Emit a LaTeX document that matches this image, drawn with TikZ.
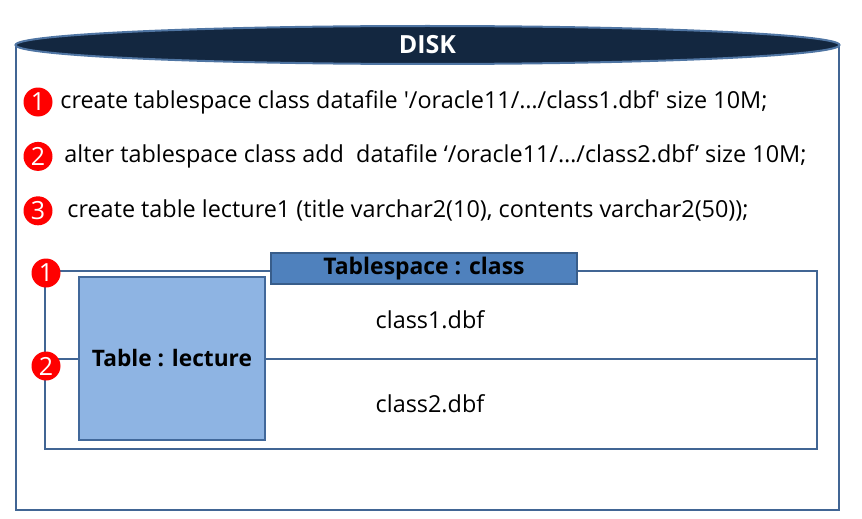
\documentclass[tikz,border=0pt]{standalone}
\usepackage{fontspec}
\setmainfont{Open Sans}
\usepackage{tikz}
\usetikzlibrary{shapes.geometric, positioning, calc}
\definecolor{disknavy}{RGB}{19, 39, 64}
\definecolor{diskrim}{RGB}{79, 117, 163}
\definecolor{frameblue}{RGB}{65, 101, 148}
\definecolor{tsblue}{RGB}{79, 129, 189}
\definecolor{tsedge}{RGB}{56, 93, 138}
\definecolor{tblblue}{RGB}{142, 180, 227}
\definecolor{tbledge}{RGB}{65, 104, 154}

\begin{document}
\begin{tikzpicture}[x=1pt, y=-1pt,
    numdot/.style={circle, fill=red, text=white, inner sep=0pt, minimum size=29pt, font=\fontsize{25}{25}\selectfont},
    cmdline/.style={inner sep=0pt, font=\fontsize{23.4}{26}\selectfont},
    fileline/.style={inner sep=0pt, font=\fontsize{23.4}{26}\selectfont},
    boxline/.style={draw=frameblue, line width=2pt}]
    \useasboundingbox (0,0) rectangle (862,519);

    % disk outline
    \draw[boxline] (16,45) -- (16,510) -- (839,510) -- (839,45);
    \node[ellipse, draw=diskrim, line width=2pt, fill=disknavy, minimum width=824pt, minimum height=38pt, inner sep=0pt, text=white, font=\bfseries\fontsize{25}{25}\selectfont] (disk) at (427.5,45) {DISK};

    % sql statements
    \node[numdot] (n1) at (38,102) {1};
    \node[cmdline, right=7.5pt of n1] (cmd1) {create tablespace class datafile \textquotesingle/oracle11/…/class1.dbf\textquotesingle\ size 10M;};
    \node[numdot, below=25pt of n1] (n2) {2};
    \node[cmdline, right=11.5pt of n2] (cmd2) {alter tablespace class add\ \ datafile ‘/oracle11/…/class2.dbf’ size 10M;};
    \node[numdot, below=25pt of n2] (n3) {3};
    \node[cmdline, right=14.5pt of n3] (cmd3) {create table lecture1 (title varchar2(10), contents varchar2(50));};

    % tablespace
    \node[boxline, minimum width=772pt, minimum height=178pt] (tsframe) at (431,360) {};
    \node[draw=tsedge, line width=1.5pt, fill=tsblue, minimum width=306pt, minimum height=31pt, inner sep=0pt, font=\bfseries\fontsize{22.9}{23}\selectfont] (tshead) at (424,268.5) {Tablespace : class};
    \node[draw=tbledge, line width=1.5pt, fill=tblblue, minimum width=186pt, minimum height=163pt, inner sep=0pt, font=\bfseries\fontsize{22.7}{23}\selectfont] (tbl) at (172,358.5) {Table : lecture};
    \draw[boxline] (tsframe.west |- tbl) -- (tbl.west);
    \draw[boxline] (tbl.east) -- (tsframe.east |- tbl);
    \node[fileline] (file1) at (430,320) {class1.dbf};
    \node[fileline] (file2) at (430,404) {class2.dbf};

    \node[numdot] (m1) at (46,273) {1};
    \node[numdot] (m2) at (46,366) {2};
\end{tikzpicture}
\end{document}
